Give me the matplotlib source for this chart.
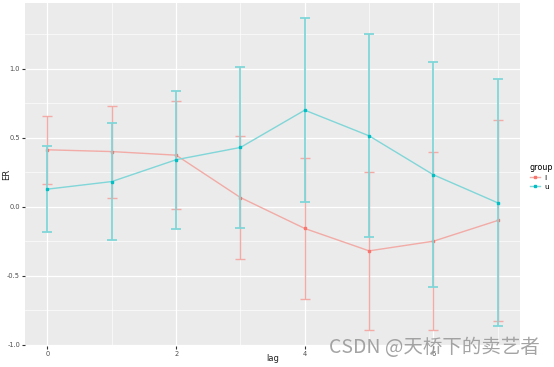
import matplotlib
matplotlib.use("Agg")
import matplotlib.pyplot as plt
from matplotlib.lines import Line2D
import numpy as np

lag = [0, 1, 2, 3, 4, 5, 6, 7]
er_l = [0.413, 0.400, 0.374, 0.067, -0.157, -0.319, -0.249, -0.099]
err_l = [0.247, 0.333, 0.391, 0.444, 0.508, 0.571, 0.646, 0.725]
er_u = [0.128, 0.183, 0.341, 0.430, 0.700, 0.514, 0.232, 0.029]
err_u = [0.313, 0.422, 0.500, 0.580, 0.664, 0.735, 0.816, 0.895]
groups = ["l", "u"]
colors = ["#F8766D", "#00BFC4"]
light = ["#F2ABA6", "#80D6D8"]
widths = [1.0, 1.3]
xticks = [0, 2, 4, 6]
yticks = [-1.0, -0.5, 0.0, 0.5, 1.0]

fig = plt.figure(figsize=(5.54, 3.67), dpi=100)
ax = fig.add_axes([0.0451, 0.0572, 0.894, 0.935])
ax.set_facecolor("#EBEBEB")
for s in ax.spines.values():
    s.set_visible(False)

z = 3
for g, y, e, c, lc, w in zip(groups, [er_l, er_u], [err_l, err_u], colors, light, widths):
    ax.errorbar(lag, y, yerr=e, fmt="none", ecolor=lc, elinewidth=w,
                capsize=3.5, capthick=w, zorder=z)
    ax.plot(lag, y, color=lc, lw=1.0, zorder=z + 0.1)
    ax.plot(lag, y, "s", color=c, ms=1.8, zorder=z + 0.2)
    z += 1

ax.set_xlim(-0.35, 7.35)
lo = min(min(a - b for a, b in zip(er_l, err_l)), min(a - b for a, b in zip(er_u, err_u)))
hi = max(max(a + b for a, b in zip(er_l, err_l)), max(a + b for a, b in zip(er_u, err_u)))
pad = (hi - lo) * 0.05
ax.set_ylim(lo - pad, hi + pad)

ax.set_xticks(xticks)
ax.set_xticklabels([str(t) for t in xticks])
ax.set_yticks(yticks)
ax.set_yticklabels([f"{t:.1f}" for t in yticks])
ax.set_xticks([1, 3, 5, 7], minor=True)
ax.set_yticks([-0.75, -0.25, 0.25, 0.75, 1.25], minor=True)
ax.grid(True, which="major", color="white", lw=0.9)
ax.grid(True, which="minor", color="white", lw=0.45)
ax.set_axisbelow(True)
ax.tick_params(which="major", length=2, color="#333333", labelsize=4.8, labelcolor="#4D4D4D", pad=1.5)
ax.tick_params(which="minor", length=0)
ax.set_xlabel("lag", fontsize=6, color="#222222")
ax.set_ylabel("ER", fontsize=6, color="#222222")
ax.xaxis.set_label_coords(0.5, -0.024)
ax.yaxis.set_label_coords(-0.027, 0.5)

handles = [Line2D([0], [0], color=lc, lw=1, marker="s", ms=1.8, markerfacecolor=c,
                  markeredgecolor=c) for c, lc in zip(colors, light)]
leg = fig.legend(handles, groups, title="group", loc="upper left", bbox_to_anchor=(0.950, 0.565),
                 frameon=False, fontsize=5.3, title_fontsize=5.8, handlelength=1.3,
                 handletextpad=0.6, labelspacing=0.35, borderpad=0)
leg._legend_box.align = "left"

fig.text(0.975, 0.025, "CSDN @天桥下的卖艺者", ha="right", va="bottom", fontsize=14,
         color="#9a9a9a", alpha=0.9, family=["Noto Sans CJK SC", "DejaVu Sans"])

fig.savefig("out.png", dpi=100)
